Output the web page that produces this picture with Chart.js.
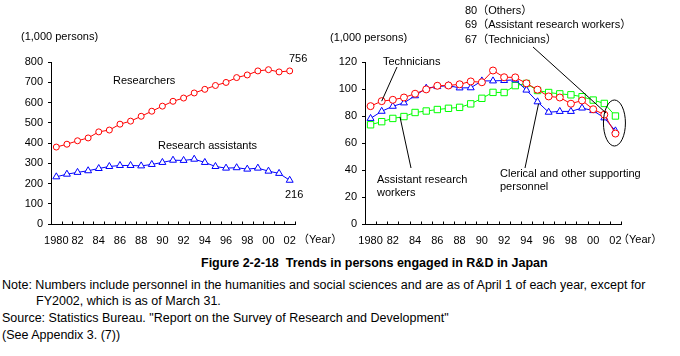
<!DOCTYPE html>
<html><head><meta charset="utf-8">
<script src="https://cdn.jsdelivr.net/npm/chart.js@4/dist/chart.umd.min.js"></script>
<style>
html,body{margin:0;padding:0;background:#fff;}
#wrap{position:relative;width:680px;height:356px;overflow:hidden;background:#fff;font-family:'Liberation Sans',Arial,'Noto Sans CJK JP',sans-serif;color:#000;}
#c1{position:absolute;left:0;top:0;}
#c2{position:absolute;left:320px;top:0;}
.t{position:absolute;white-space:nowrap;}
.n{font-size:12.5px;line-height:14px;}
</style></head><body>
<div id="wrap">
<canvas id="c1" width="360" height="255"></canvas>
<canvas id="c2" width="360" height="255"></canvas>
<div class="t" style="left:201px;top:255px;font-weight:bold;font-size:12.5px;line-height:16px;">Figure 2-2-18&nbsp; Trends in persons engaged in R&amp;D in Japan</div>
<div class="t n" style="left:2px;top:278px;">Note: Numbers include personnel in the humanities and social sciences and are as of April 1 of each year, except for</div>
<div class="t n" style="left:36px;top:294px;">FY2002, which is as of March 31.</div>
<div class="t n" style="left:2px;top:311px;">Source: Statistics Bureau. "Report on the Survey of Research and Development"</div>
<div class="t n" style="left:2px;top:328px;">(See Appendix 3. (7))</div>
</div>
<script>
// ---- data ----
const years = ['1980','81','82','83','84','85','86','87','88','89','90','91','92','93','94','95','96','97','98','99','00','01','02'];
const researchers = [380, 394, 411, 425, 455, 464, 493, 508, 532, 557, 582, 606, 622, 647, 665, 684, 699, 723, 736, 756, 762, 751, 756];
const researchAssistants = [233, 246, 255, 263, 274, 284, 289, 289, 287, 294, 304, 315, 314, 320, 304, 284, 276, 278, 271, 276, 261, 250, 216];
const technicians = [87.3, 91, 92, 93.7, 96.5, 99.7, 102.4, 102.6, 103.5, 105.6, 105, 113.7, 108.7, 108.6, 104.2, 99.5, 94.5, 93.7, 89.1, 91.5, 85, 81, 67];
const assistantWorkers = [78.2, 83.5, 87.2, 89.7, 95, 100.6, 101.8, 102.5, 100.8, 100.9, 106, 106, 106.3, 106.8, 99.2, 90.5, 82.8, 83.4, 83.4, 85.9, 84, 78.6, 69];
const others = [73.5, 75.8, 78.2, 79.6, 82.6, 83.7, 84.8, 85.7, 86.4, 89, 93.1, 97.5, 97.4, 102.5, 104.1, 98.9, 97.4, 96.4, 95.7, 94.3, 91.8, 89.3, 80];

const FONT = '11px "Liberation Sans", Arial, "Noto Sans CJK JP", sans-serif';

function xInwardTicks(chart){
  const xs = chart.scales.x, ctx = chart.ctx;
  const n = years.length;
  const step = xs.getPixelForValue(1) - xs.getPixelForValue(0);
  const y0 = Math.round(xs.top) + 0.5;
  ctx.save(); ctx.strokeStyle = '#000'; ctx.lineWidth = 1;
  for (let i = 0; i <= n; i++){
    const x = Math.round(xs.getPixelForValue(0) - step/2 + i*step) + 0.5;
    ctx.beginPath(); ctx.moveTo(x, y0); ctx.lineTo(x, y0 - 3); ctx.stroke();
  }
  ctx.restore();
}
function drawTexts(ctx, items){
  ctx.save(); ctx.font = FONT; ctx.fillStyle = '#000'; ctx.textBaseline = 'middle'; ctx.textAlign = 'left';
  items.forEach(t => ctx.fillText(t[0], t[1], t[2]));
  ctx.restore();
}
function line(ctx, x1, y1, x2, y2){
  ctx.save(); ctx.strokeStyle = '#000'; ctx.lineWidth = 1;
  ctx.beginPath(); ctx.moveTo(x1, y1); ctx.lineTo(x2, y2); ctx.stroke(); ctx.restore();
}

function makeOptions(yMax, yStep, yWidth, padRight){
  return {
    responsive: false, animation: false, devicePixelRatio: 1,
    layout: { padding: { left: 0, right: padRight, top: 62, bottom: 0 } },
    plugins: { legend: { display: false }, tooltip: { enabled: false } },
    scales: {
      x: {
        type: 'category', offset: true,
        grid: { display: false, drawTicks: false },
        border: { display: true, color: '#000', width: 1 },
        ticks: { autoSkip: false, maxRotation: 0, minRotation: 0, padding: 10, color: '#000',
          font: { family: '"Liberation Sans", Arial, sans-serif', size: 11 },
          callback: function(v, i){ return i % 2 === 0 ? this.getLabelForValue(v) : ''; } },
        afterFit: s => { s.height = 31; }
      },
      y: {
        min: 0, max: yMax,
        grid: { drawOnChartArea: false, drawTicks: true, tickLength: 3, color: '#000' },
        border: { display: true, color: '#000', width: 1 },
        ticks: { stepSize: yStep, padding: 5, color: '#000',
          font: { family: '"Liberation Sans", Arial, sans-serif', size: 11 } },
        afterFit: s => { s.width = yWidth; }
      }
    }
  };
}
function ds(data, color, style, r){
  return { data: data, borderColor: color, borderWidth: 1, backgroundColor: '#fff',
    pointStyle: style, pointRadius: r, pointBorderColor: color, pointBackgroundColor: '#fff',
    pointBorderWidth: 1, tension: 0, fill: false };
}

new Chart(document.getElementById('c1'), {
  type: 'line',
  data: { labels: years, datasets: [ ds(researchers, '#FF0000', 'circle', 3), ds(researchAssistants, '#0000FF', 'triangle', 4) ] },
  options: makeOptions(800, 100, 51, 65),
  plugins: [{ id: 'ann1', afterDraw(chart){
    xInwardTicks(chart);
    drawTexts(chart.ctx, [
      ['(1,000 persons)', 21, 37], ['Researchers', 113, 80.5], ['Research assistants', 158, 146],
      [String(researchers[22]), 289, 59], [String(researchAssistants[22]), 285, 195], ['（Year）', 298, 240]
    ]);
  } }]
});

new Chart(document.getElementById('c2'), {
  type: 'line',
  data: { labels: years, datasets: [ ds(technicians, '#FF0000', 'circle', 3.5), ds(assistantWorkers, '#0000FF', 'triangle', 4), ds(others, '#00FF00', 'rect', 4.5) ] },
  options: makeOptions(120, 20, 45, 59),
  plugins: [{ id: 'ann2', afterDraw(chart){
    xInwardTicks(chart);
    const xs = chart.scales.x, ys = chart.scales.y, ctx = chart.ctx;
    drawTexts(ctx, [
      ['(1,000 persons)', 10, 37.5],
      [others[22] + '（Others）', 145, 10.5],
      [assistantWorkers[22] + '（Assistant research workers）', 145, 25],
      [technicians[22] + '（Technicians）', 145, 39.5],
      ['Technicians', 63, 61.5],
      ['Assistant research', 57, 179.5], ['workers', 57, 192.5],
      ['Clerical and other supporting', 180, 173.5], ['personnel', 180, 186.5],
      ['（Year）', 298, 240]
    ]);
    line(ctx, 77, 67, xs.getPixelForValue(1), ys.getPixelForValue(technicians[1]));
    line(ctx, 80, 117, 91, 168);
    line(ctx, xs.getPixelForValue(15) + 1, ys.getPixelForValue(assistantWorkers[15]) + 2, 205, 168);
    line(ctx, 213, 47, 286, 113);
    ctx.save(); ctx.strokeStyle = '#000'; ctx.lineWidth = 1; ctx.beginPath();
    ctx.ellipse(xs.getPixelForValue(22) - 1, 123, 11, 23, 0, 0, Math.PI*2); ctx.stroke(); ctx.restore();
  } }]
});
</script>
</body></html>
